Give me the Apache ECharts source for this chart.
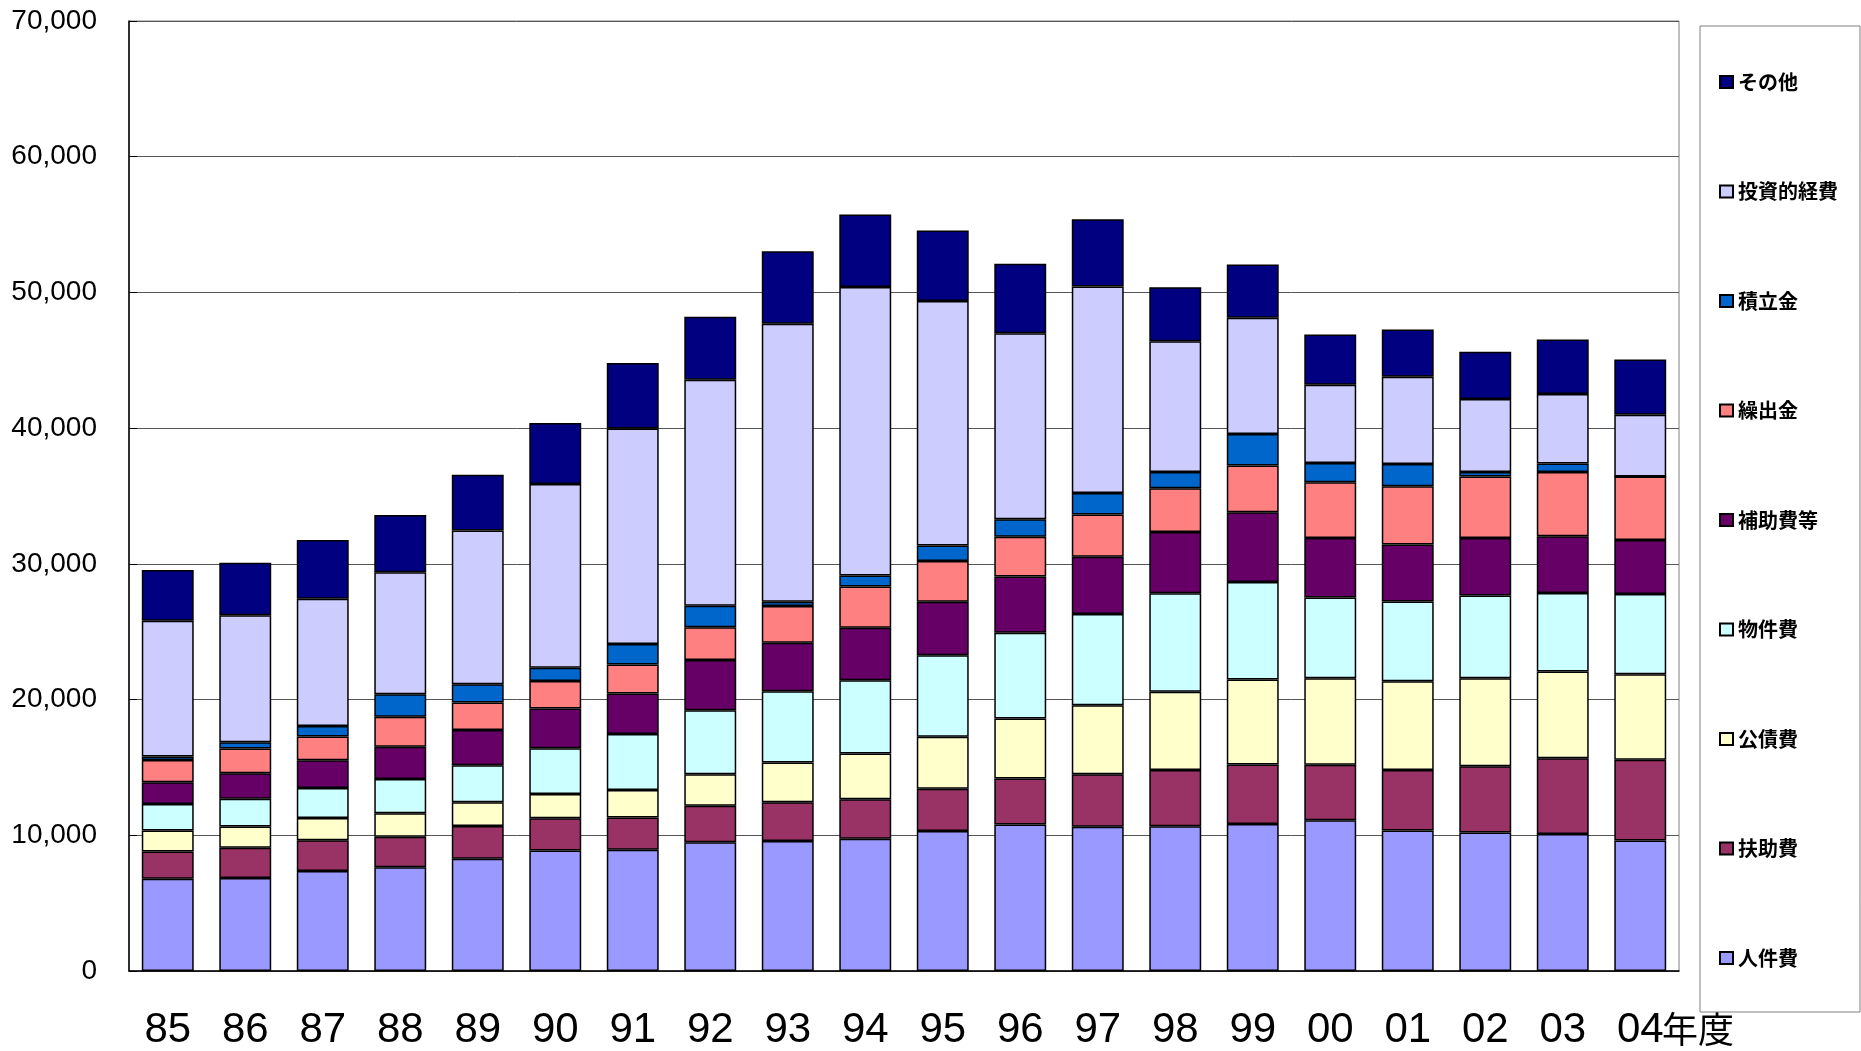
<!DOCTYPE html>
<html>
<head>
<meta charset="utf-8">
<script src="https://cdn.jsdelivr.net/npm/echarts@6.0.0/dist/echarts.min.js"></script>
<style>
  html, body { margin: 0; padding: 0; background: #fff; }
  #chart { width: 1861px; height: 1051px; }
</style>
</head>
<body>
<div id="chart"></div>
<script>
const years = ['85', '86', '87', '88', '89', '90', '91', '92', '93', '94',
  '95', '96', '97', '98', '99', '00', '01', '02', '03', '04'];

// 下から順に積み上げ
const jinkenhi = [6800, 6850, 7370, 7640, 8280, 8870, 8930, 9480, 9570, 9740,
  10310, 10790, 10630, 10660, 10830, 11110, 10360, 10210, 10100, 9620];
const fujohi = [2000, 2240, 2260, 2260, 2410, 2380, 2380, 2700, 2860, 2920,
  3120, 3390, 3870, 4150, 4380, 4080, 4450, 4870, 5570, 5940];
const kousaihi = [1550, 1550, 1650, 1720, 1740, 1800, 2020, 2320, 2940, 3370,
  3830, 4420, 5090, 5770, 6270, 6380, 6540, 6490, 6390, 6310];
const bukkenhi = [1950, 2060, 2210, 2530, 2730, 3370, 4140, 4720, 5240, 5390,
  6000, 6320, 6710, 7260, 7190, 5950, 5870, 6100, 5790, 5910];
const hojohi = [1600, 1870, 2040, 2380, 2600, 2920, 2980, 3700, 3570, 3870,
  3950, 4150, 4230, 4510, 5140, 4380, 4200, 4230, 4190, 3970];
const kuridashi = [1650, 1820, 1740, 2210, 2020, 2020, 2140, 2410, 2710, 3050,
  3000, 2920, 3110, 3230, 3430, 4120, 4300, 4530, 4720, 4680];
const tsumitate = [250, 460, 790, 1650, 1350, 990, 1500, 1590, 310, 810,
  1150, 1300, 1590, 1190, 2330, 1410, 1640, 330, 630, 0];
const toushi = [10000, 9360, 9360, 8990, 11330, 13530, 15890, 16650, 20490, 21250,
  18000, 13700, 15200, 9630, 8560, 5760, 6420, 5390, 5130, 4560];
const sonota = [3750, 3880, 4340, 4220, 4110, 4490, 4820, 4640, 5340, 5340,
  5210, 5130, 4970, 3990, 3920, 3710, 3490, 3480, 4010, 4060];

const seriesDefs = [
  { name: '人件費', data: jinkenhi, color: '#9999FF' },
  { name: '扶助費', data: fujohi, color: '#993366' },
  { name: '公債費', data: kousaihi, color: '#FFFFCC' },
  { name: '物件費', data: bukkenhi, color: '#CCFFFF' },
  { name: '補助費等', data: hojohi, color: '#660066' },
  { name: '繰出金', data: kuridashi, color: '#FF8080' },
  { name: '積立金', data: tsumitate, color: '#0066CC' },
  { name: '投資的経費', data: toushi, color: '#CCCCFF' },
  { name: 'その他', data: sonota, color: '#000080' }
];

const chart = echarts.init(document.getElementById('chart'));

chart.setOption({
  animation: false,
  backgroundColor: '#fff',
  grid: {
    left: 129, right: 182, top: 21, bottom: 80,
    show: true, borderColor: '#808080', borderWidth: 1
  },
  legend: {
    orient: 'vertical',
    left: 1700,
    top: 26,
    padding: [46, 22, 44, 19],
    itemGap: 89.5,
    itemWidth: 13,
    itemHeight: 12,
    icon: 'rect',
    borderColor: '#808080',
    borderWidth: 1,
    data: seriesDefs.map((s) => s.name).reverse(),
    textStyle: {
      fontFamily: '"Noto Sans CJK JP", sans-serif',
      fontSize: 20,
      fontWeight: 'bold',
      lineHeight: 20,
      color: '#000'
    }
  },
  xAxis: {
    type: 'category',
    data: years,
    axisLine: { lineStyle: { color: '#000', width: 1.5 } },
    axisTick: { inside: true, length: 14, lineStyle: { color: '#444' } },
    axisLabel: {
      margin: 38,
      fontFamily: '"Liberation Sans", Arial, sans-serif',
      fontSize: 42,
      color: '#000'
    }
  },
  yAxis: {
    type: 'value',
    min: 0,
    max: 70000,
    interval: 10000,
    axisLine: { show: true, lineStyle: { color: '#000', width: 1.5 } },
    axisTick: { show: true, inside: true, length: 8, lineStyle: { color: '#000' } },
    splitLine: { lineStyle: { color: '#555', width: 1 } },
    axisLabel: {
      margin: 32,
      fontFamily: '"Liberation Sans", Arial, sans-serif',
      fontSize: 28,
      color: '#000',
      formatter: (v) => v.toLocaleString('en-US')
    }
  },
  graphic: [
    {
      type: 'text',
      x: 1662,
      y: 1029,
      style: {
        text: '年度',
        fontFamily: '"Noto Sans CJK JP", sans-serif',
        fontSize: 36,
        fill: '#000',
        verticalAlign: 'middle'
      }
    }
  ],
  series: seriesDefs.map((s) => ({
    name: s.name,
    type: 'bar',
    stack: 'total',
    barWidth: '67%',
    data: s.data,
    itemStyle: { color: s.color, borderColor: '#000', borderWidth: 1.5 }
  }))
});
</script>
</body>
</html>
